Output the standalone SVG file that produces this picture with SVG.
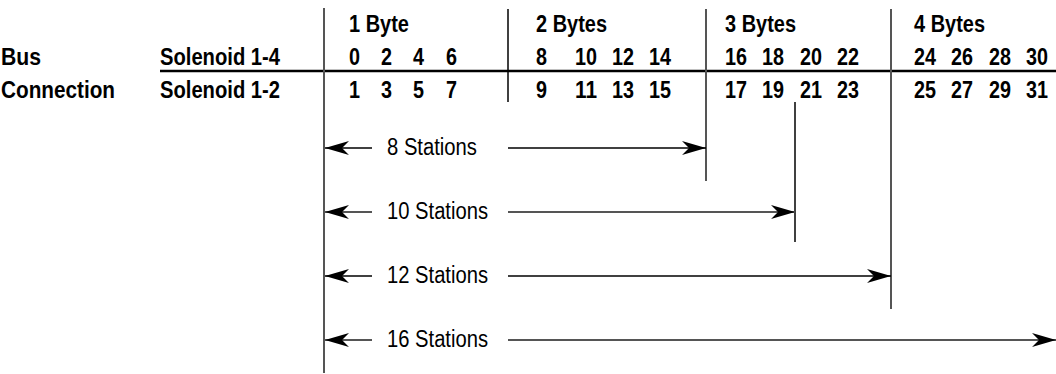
<svg xmlns="http://www.w3.org/2000/svg" width="1056" height="374" viewBox="0 0 1056 374">
<style>
.b{font-family:"Liberation Sans",Arial,sans-serif;font-weight:bold;font-size:23px;fill:#000}
.r{font-family:"Liberation Sans",Arial,sans-serif;font-size:23px;fill:#000}
.g{stroke:#555;stroke-width:2;fill:none}
.k{stroke:#000;stroke-width:1.5;fill:none}
</style>
<defs>
<marker id="ah" viewBox="0 0 24 14" refX="24" refY="7" markerWidth="24" markerHeight="14" markerUnits="userSpaceOnUse" orient="auto">
<path d="M0,0 L24,7 L0,14 L7,7 Z" fill="#000"/>
</marker>
</defs>
<rect width="1056" height="374" fill="#fff"/>
<g id="row-labels">
<text class="b" x="1" y="65" textLength="40" lengthAdjust="spacingAndGlyphs">Bus</text>
<text class="b" x="1" y="98" textLength="114" lengthAdjust="spacingAndGlyphs">Connection</text>
<text class="b" x="160" y="65" textLength="120" lengthAdjust="spacingAndGlyphs">Solenoid 1-4</text>
<text class="b" x="160" y="98" textLength="120" lengthAdjust="spacingAndGlyphs">Solenoid 1-2</text>
</g>
<g id="byte1">
<text class="b" x="349" y="32" textLength="60" lengthAdjust="spacingAndGlyphs">1 Byte</text>
<text class="b" x="349" y="65" textLength="11" lengthAdjust="spacingAndGlyphs">0</text><text class="b" x="381" y="65" textLength="11" lengthAdjust="spacingAndGlyphs">2</text><text class="b" x="413" y="65" textLength="11" lengthAdjust="spacingAndGlyphs">4</text><text class="b" x="446" y="65" textLength="11" lengthAdjust="spacingAndGlyphs">6</text>
<text class="b" x="349" y="98" textLength="11" lengthAdjust="spacingAndGlyphs">1</text><text class="b" x="381" y="98" textLength="11" lengthAdjust="spacingAndGlyphs">3</text><text class="b" x="413" y="98" textLength="11" lengthAdjust="spacingAndGlyphs">5</text><text class="b" x="446" y="98" textLength="11" lengthAdjust="spacingAndGlyphs">7</text>
</g>
<g id="byte2">
<text class="b" x="536" y="32" textLength="71" lengthAdjust="spacingAndGlyphs">2 Bytes</text>
<text class="b" x="536" y="65" textLength="11" lengthAdjust="spacingAndGlyphs">8</text><text class="b" x="575" y="65" textLength="22" lengthAdjust="spacingAndGlyphs">10</text><text class="b" x="612" y="65" textLength="22" lengthAdjust="spacingAndGlyphs">12</text><text class="b" x="649" y="65" textLength="22" lengthAdjust="spacingAndGlyphs">14</text>
<text class="b" x="536" y="98" textLength="11" lengthAdjust="spacingAndGlyphs">9</text><text class="b" x="575" y="98" textLength="22" lengthAdjust="spacingAndGlyphs">11</text><text class="b" x="612" y="98" textLength="22" lengthAdjust="spacingAndGlyphs">13</text><text class="b" x="649" y="98" textLength="22" lengthAdjust="spacingAndGlyphs">15</text>
</g>
<g id="byte3">
<text class="b" x="725" y="32" textLength="71" lengthAdjust="spacingAndGlyphs">3 Bytes</text>
<text class="b" x="725" y="65" textLength="22" lengthAdjust="spacingAndGlyphs">16</text><text class="b" x="762" y="65" textLength="22" lengthAdjust="spacingAndGlyphs">18</text><text class="b" x="800" y="65" textLength="22" lengthAdjust="spacingAndGlyphs">20</text><text class="b" x="837" y="65" textLength="22" lengthAdjust="spacingAndGlyphs">22</text>
<text class="b" x="725" y="98" textLength="22" lengthAdjust="spacingAndGlyphs">17</text><text class="b" x="762" y="98" textLength="22" lengthAdjust="spacingAndGlyphs">19</text><text class="b" x="800" y="98" textLength="22" lengthAdjust="spacingAndGlyphs">21</text><text class="b" x="837" y="98" textLength="22" lengthAdjust="spacingAndGlyphs">23</text>
</g>
<g id="byte4">
<text class="b" x="914" y="32" textLength="71" lengthAdjust="spacingAndGlyphs">4 Bytes</text>
<text class="b" x="914" y="65" textLength="22" lengthAdjust="spacingAndGlyphs">24</text><text class="b" x="951" y="65" textLength="22" lengthAdjust="spacingAndGlyphs">26</text><text class="b" x="989" y="65" textLength="22" lengthAdjust="spacingAndGlyphs">28</text><text class="b" x="1026" y="65" textLength="22" lengthAdjust="spacingAndGlyphs">30</text>
<text class="b" x="914" y="98" textLength="22" lengthAdjust="spacingAndGlyphs">25</text><text class="b" x="951" y="98" textLength="22" lengthAdjust="spacingAndGlyphs">27</text><text class="b" x="989" y="98" textLength="22" lengthAdjust="spacingAndGlyphs">29</text><text class="b" x="1026" y="98" textLength="22" lengthAdjust="spacingAndGlyphs">31</text>
</g>
<g id="dividers">
<line x1="160" y1="71" x2="1056" y2="71" stroke="#000" stroke-width="2.5"/>
<line class="g" x1="324" y1="8" x2="324" y2="373"/>
<line class="k" x1="508" y1="9" x2="508" y2="102"/>
<line class="g" x1="706" y1="9" x2="706" y2="181"/>
<line class="k" x1="795" y1="102" x2="795" y2="242"/>
<line class="g" x1="891" y1="9" x2="891" y2="309"/>
</g>
<g id="station-labels">
<text class="r" x="387" y="155" textLength="90" lengthAdjust="spacingAndGlyphs">8 Stations</text>
<text class="r" x="387" y="219" textLength="101" lengthAdjust="spacingAndGlyphs">10 Stations</text>
<text class="r" x="387" y="283" textLength="101" lengthAdjust="spacingAndGlyphs">12 Stations</text>
<text class="r" x="387" y="347" textLength="101" lengthAdjust="spacingAndGlyphs">16 Stations</text>
</g>
<g id="connectors">
<path class="k" d="M372,148 H325" marker-end="url(#ah)"/>
<path class="k" d="M508,148 H706" marker-end="url(#ah)"/>
<path class="g" d="M372,212 H325" marker-end="url(#ah)"/>
<path class="g" d="M508,212 H795" marker-end="url(#ah)"/>
<path class="k" d="M372,276 H325" marker-end="url(#ah)"/>
<path class="k" d="M508,276 H891" marker-end="url(#ah)"/>
<path class="g" d="M372,340 H325" marker-end="url(#ah)"/>
<path class="g" d="M508,340 H1056" marker-end="url(#ah)"/>
</g>
</svg>
